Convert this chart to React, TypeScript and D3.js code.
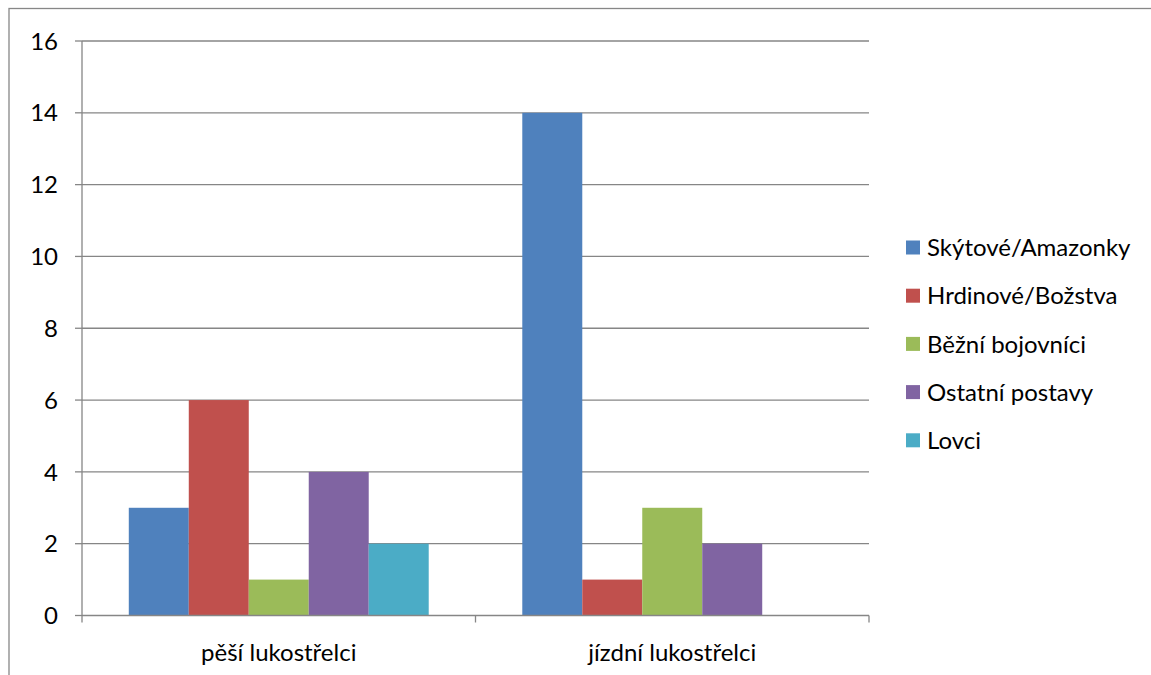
import React from "react";
import * as d3 from "d3";

const categories = ["pěší lukostřelci", "jízdní lukostřelci"];
const seriesNames = ["Skýtové/Amazonky", "Hrdinové/Božstva", "Běžní bojovníci", "Ostatní postavy", "Lovci"];
const seriesColors = ["#4F81BD", "#C0504D", "#9BBB59", "#8064A2", "#4BACC6"];
const values: number[][] = [
  [3, 14],
  [6, 1],
  [1, 3],
  [4, 2],
  [2, 0],
];
const yTicks = [0, 2, 4, 6, 8, 10, 12, 14, 16];

const W = 1151, H = 675;
const plot = { left: 82, right: 869, top: 41, bottom: 615.5 };
const FONT = "Lato, 'Open Sans', sans-serif";
const FS = 24;

export default function App() {
  const y = d3.scaleLinear().domain([0, 16]).range([plot.bottom, plot.top]);
  const x0 = d3.scaleBand().domain(categories).range([plot.left, plot.right]).paddingInner(0).paddingOuter(0);
  const x1 = d3.scaleBand().domain(seriesNames).range([0, x0.bandwidth()]).paddingInner(0).paddingOuter(0.78);
  const grid = "#868686";

  return (
    <svg width={W} height={H} style={{ position: "absolute", left: 0, top: 0, background: "#fff" }}>
      <rect x={9} y={8.5} width={W} height={H} fill="#fff" stroke="#878787" strokeWidth={1.3} />
      {yTicks.map((t) => (
        <g key={t}>
          {t > 0 && (
            <line x1={plot.left} x2={plot.right} y1={y(t)} y2={y(t)} stroke={grid} strokeWidth={1.3} />
          )}
          <line x1={plot.left - 7} x2={plot.left} y1={y(t)} y2={y(t)} stroke={grid} strokeWidth={1.3} />
          <text x={58} y={y(t)} dy="0.36em" textAnchor="end" fontFamily={FONT} fontSize={FS} fill="#000">
            {t}
          </text>
        </g>
      ))}
      {seriesNames.map((s, si) =>
        categories.map((c, ci) => {
          const v = values[si][ci];
          if (v <= 0) return null;
          return (
            <rect
              key={s + c}
              x={(x0(c) as number) + (x1(s) as number)}
              y={y(v)}
              width={x1.bandwidth()}
              height={y(0) - y(v)}
              fill={seriesColors[si]}
            />
          );
        })
      )}
      <line x1={plot.left} x2={plot.left} y1={plot.top} y2={plot.bottom} stroke={grid} strokeWidth={1.3} />
      <line x1={plot.left} x2={plot.right} y1={plot.bottom} y2={plot.bottom} stroke={grid} strokeWidth={1.3} />
      {[...categories.map((c) => x0(c) as number), plot.right].map((px, i) => (
        <line key={i} x1={px} x2={px} y1={plot.bottom} y2={plot.bottom + 7} stroke={grid} strokeWidth={1.3} />
      ))}
      {categories.map((c) => (
        <text
          key={c}
          x={(x0(c) as number) + x0.bandwidth() / 2}
          y={652}
          dy="0.36em"
          textAnchor="middle"
          fontFamily={FONT}
          fontSize={FS}
          fill="#000"
        >
          {c}
        </text>
      ))}
      {seriesNames.map((s, i) => (
        <g key={s} transform={`translate(906, ${247.5 + i * 48.2})`}>
          <rect x={0} y={-7} width={14} height={14} fill={seriesColors[i]} />
          <text x={21} y={0} dy="0.36em" fontFamily={FONT} fontSize={FS} fill="#000">
            {s}
          </text>
        </g>
      ))}
    </svg>
  );
}
